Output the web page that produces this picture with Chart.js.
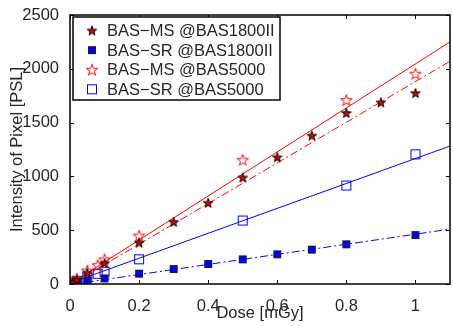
<!DOCTYPE html>
<html>
<head>
<meta charset="utf-8">
<script src="https://cdn.jsdelivr.net/npm/chart.js@4/dist/chart.umd.min.js"></script>
<style>
  html, body { margin: 0; padding: 0; background: #fff; overflow: hidden; }
  canvas { display: block; }
</style>
</head>
<body>
<canvas id="doseChart" width="456" height="326"></canvas>
<script>
// measured points, dose in mGy, intensity in PSL
const doseMs1800 = [0.01, 0.02, 0.05, 0.1, 0.2, 0.3, 0.4, 0.5, 0.6, 0.7, 0.8, 0.9, 1.0];
const pslMs1800 = [15, 40, 105, 195, 385, 578, 755, 990, 1178, 1380, 1590, 1688, 1775];

const doseSr1800 = [0.01, 0.02, 0.05, 0.1, 0.2, 0.3, 0.4, 0.5, 0.6, 0.7, 0.8, 1.0];
const pslSr1800 = [8, 15, 30, 52, 96, 139, 186, 229, 276, 319, 369, 455];

const doseMs5000 = [0.01, 0.02, 0.05, 0.08, 0.1, 0.2, 0.5, 0.8, 1.0];
const pslMs5000 = [25, 50, 125, 175, 230, 450, 1155, 1710, 1955];

const doseSr5000 = [0.01, 0.02, 0.05, 0.08, 0.1, 0.2, 0.5, 0.8, 1.0];
const pslSr5000 = [15, 30, 60, 95, 115, 230, 590, 915, 1205];

// linear fits, evaluated at the ends of the x range
const fitDose = [0, 1.1];
const fitMs5000 = [0, 2250];
const fitMs1800 = [-8, 2070];
const fitSr5000 = [8, 1282];
const fitSr1800 = [-6, 510];

const legendLabels = ['BAS\u2212MS @BAS1800II', 'BAS\u2212SR @BAS1800II', 'BAS\u2212MS @BAS5000', 'BAS\u2212SR @BAS5000'];
const xTicks = [0, 0.2, 0.4, 0.6, 0.8, 1];

const RED = 'rgb(255,0,0)';
const BLUE = 'rgb(0,0,255)';
const TEXT = '#262626';
const FONT = 'Liberation Sans, Arial, Helvetica, sans-serif';

function pts(xs, ys) {
  return xs.map((x, i) => ({ x: x, y: ys[i] }));
}

function starMarker(r, fill, stroke) {
  const size = Math.ceil(2 * r + 4);
  const c = document.createElement('canvas');
  c.width = size; c.height = size;
  const g = c.getContext('2d');
  const cx = size / 2, cy = size / 2 + r * 0.1;
  g.beginPath();
  for (let i = 0; i < 10; i++) {
    const rad = i % 2 ? r * 0.4 : r;
    const a = -Math.PI / 2 + i * Math.PI / 5;
    g.lineTo(cx + rad * Math.cos(a), cy + rad * Math.sin(a));
  }
  g.closePath();
  if (fill) { g.fillStyle = fill; g.fill(); }
  g.strokeStyle = stroke;
  g.lineWidth = 1;
  g.stroke();
  return c;
}

function squareMarker(s, fill, stroke) {
  const size = Math.ceil(s + 3);
  const c = document.createElement('canvas');
  c.width = size; c.height = size;
  const g = c.getContext('2d');
  const o = (size - s) / 2;
  if (fill) { g.fillStyle = fill; g.fillRect(o, o, s, s); }
  g.strokeStyle = stroke;
  g.lineWidth = 1;
  g.strokeRect(o, o, s, s);
  return c;
}

const markers = [
  starMarker(5, 'rgb(215,0,0)', '#000'),
  squareMarker(7, 'rgb(0,0,245)', '#222'),
  starMarker(6, null, RED),
  squareMarker(9, null, BLUE)
];

function scatterSet(label, xs, ys, marker) {
  return {
    type: 'scatter', label: label, data: pts(xs, ys),
    pointStyle: marker, pointRadius: 5, showLine: false, order: 1
  };
}

function fitSet(ys, color, dashed) {
  return {
    type: 'line', label: '', data: pts(fitDose, ys),
    borderColor: color, borderWidth: 1, borderDash: dashed ? [8, 3, 2, 3] : [],
    pointRadius: 0, fill: false, order: 2
  };
}

// box, inward ticks and legend
const matlabAxes = {
  id: 'matlabAxes',
  afterDraw(chart) {
    const ctx = chart.ctx;
    const a = chart.chartArea;
    const xs = chart.scales.x, ys = chart.scales.y;
    ctx.save();
    ctx.strokeStyle = '#000';
    ctx.lineWidth = 1;
    ctx.beginPath();
    xs.ticks.forEach(t => {
      const px = Math.round(xs.getPixelForValue(t.value)) + 0.5;
      ctx.moveTo(px, a.bottom); ctx.lineTo(px, a.bottom - 4);
      ctx.moveTo(px, a.top); ctx.lineTo(px, a.top + 4);
    });
    ys.ticks.forEach(t => {
      const py = Math.round(ys.getPixelForValue(t.value)) + 0.5;
      ctx.moveTo(a.left, py); ctx.lineTo(a.left + 4, py);
      ctx.moveTo(a.right, py); ctx.lineTo(a.right - 4, py);
    });
    ctx.stroke();
    ctx.lineWidth = 1.5;
    ctx.strokeRect(a.left, a.top, a.right - a.left, a.bottom - a.top);

    // legend
    const lx = 73, ly = 17, lw = 207, lh = 83;
    ctx.fillStyle = '#fff';
    ctx.fillRect(lx, ly, lw, lh);
    ctx.lineWidth = 1.5;
    ctx.strokeRect(lx, ly, lw, lh);
    ctx.font = '16.5px ' + FONT;
    ctx.fillStyle = TEXT;
    ctx.textBaseline = 'middle';
    ctx.textAlign = 'left';
    legendLabels.forEach((txt, i) => {
      const cy = 30.5 + i * 19.6;
      const m = markers[i];
      ctx.drawImage(m, 92 - m.width / 2, cy - m.height / 2);
      ctx.fillText(txt, 107, cy + 1);
    });
    ctx.restore();
  }
};

new Chart(document.getElementById('doseChart'), {
  data: {
    datasets: [
      fitSet(fitMs5000, RED, false),
      fitSet(fitMs1800, RED, true),
      fitSet(fitSr5000, BLUE, false),
      fitSet(fitSr1800, BLUE, true),
      scatterSet(legendLabels[0], doseMs1800, pslMs1800, markers[0]),
      scatterSet(legendLabels[1], doseSr1800, pslSr1800, markers[1]),
      scatterSet(legendLabels[2], doseMs5000, pslMs5000, markers[2]),
      scatterSet(legendLabels[3], doseSr5000, pslSr5000, markers[3])
    ]
  },
  options: {
    responsive: false,
    animation: false,
    layout: { padding: { top: 15, right: 1, left: 0, bottom: 0 } },
    plugins: { legend: { display: false }, tooltip: { enabled: false } },
    scales: {
      x: {
        type: 'linear', min: 0, max: 1.1,
        afterBuildTicks: axis => { axis.ticks = xTicks.map(v => ({ value: v })); },
        afterFit: axis => { axis.height = 42; },
        grid: { display: false }, border: { display: false },
        ticks: { color: TEXT, padding: 5, maxRotation: 0, callback: v => String(v), font: { family: FONT, size: 16.5 } },
        title: { display: true, text: 'Dose [mGy]', color: TEXT, padding: { top: 0, bottom: 3 }, font: { family: FONT, size: 16.5 } }
      },
      y: {
        type: 'linear', min: 0, max: 2500,
        afterFit: axis => { axis.width = 70; },
        grid: { display: false }, border: { display: false },
        ticks: { stepSize: 500, color: TEXT, padding: 3, callback: v => String(v), font: { family: FONT, size: 16.5 } },
        title: { display: true, text: 'Intensity of Pixel [PSL]', color: TEXT, padding: { top: 8, bottom: 0 }, font: { family: FONT, size: 16.5 } }
      }
    }
  },
  plugins: [matlabAxes]
});
</script>
</body>
</html>
